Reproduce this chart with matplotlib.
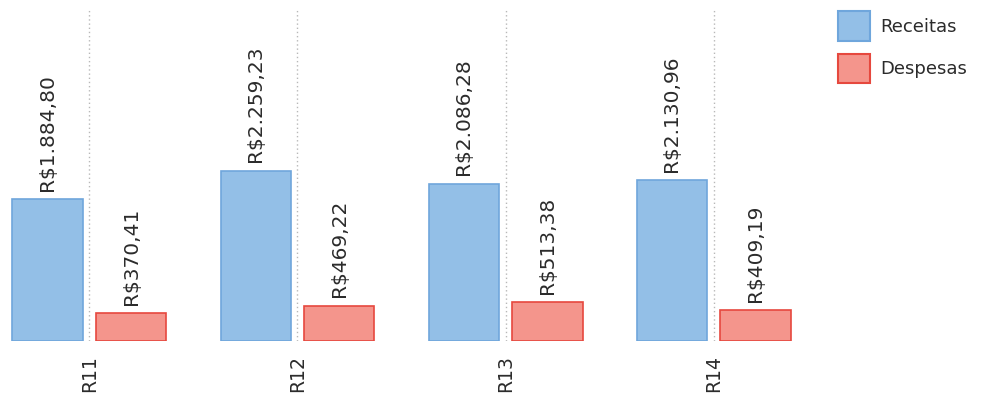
import numpy as np
import matplotlib
matplotlib.use("Agg")
import matplotlib.pyplot as plt
from matplotlib.patches import Patch

# data
categories = ["R11", "R12", "R13", "R14"]
receitas = [1884.80, 2259.23, 2086.28, 2130.96]
despesas = [370.41, 469.22, 513.38, 409.19]


def brl(v):
    # Brazilian format: R$1.884,80
    s = f"{v:,.2f}".replace(",", "X").replace(".", ",").replace("X", ".")
    return "R$" + s


blue_fill, blue_edge = "#93bfe7", "#6fa6dc"
red_fill, red_edge = "#f4958c", "#e6483e"
txt_color = "#2b2b2b"

fig = plt.figure(figsize=(9.84, 4.0), dpi=100)
ax = fig.add_axes([0.0, 0.1475, 0.833, 0.8275])

x = np.arange(len(categories))
w = 0.34
off = 0.2
b1 = ax.bar(x - off, receitas, w, color=blue_fill, edgecolor=blue_edge, linewidth=1.2, zorder=2)
b2 = ax.bar(x + off, despesas, w, color=red_fill, edgecolor=red_edge, linewidth=1.2, zorder=2)

for bars, vals in ((b1, receitas), (b2, despesas)):
    for r, v in zip(bars, vals):
        ax.annotate(brl(v), (r.get_x() + r.get_width() / 2, r.get_height()),
                    xytext=(0, 6), textcoords="offset points",
                    rotation=90, ha="center", va="bottom",
                    fontsize=14.5, color=txt_color)

ax.set_xlim(-0.43, 3.51)
ax.set_ylim(0, 4393)
ax.set_xticks(x)
ax.set_xticklabels(categories, rotation=90, fontsize=13.5, color=txt_color, va="top")
ax.tick_params(axis="x", length=0, pad=10)
ax.set_yticks([])
ax.grid(axis="x", linestyle=(0, (1, 2)), color="#b8b8b8", linewidth=1.0, zorder=0)
for s in ax.spines.values():
    s.set_visible(False)

handles = [Patch(facecolor=blue_fill, edgecolor=blue_edge, linewidth=1.5, label="Receitas"),
           Patch(facecolor=red_fill, edgecolor=red_edge, linewidth=1.5, label="Despesas")]
fig.legend(handles=handles, loc="upper left", bbox_to_anchor=(0.835, 1.012),
           frameon=False, fontsize=13, handlelength=1.8, handleheight=2.1,
           handletextpad=0.55, labelspacing=0.75, labelcolor=txt_color)

fig.savefig("out.png", dpi=100)
